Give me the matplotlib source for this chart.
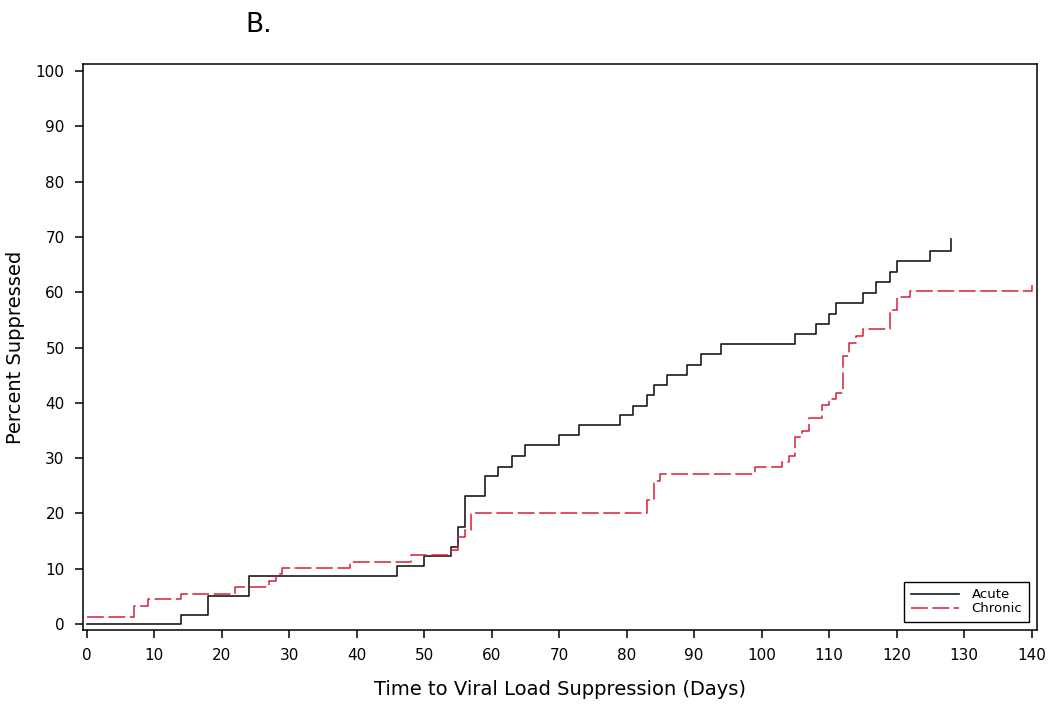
import numpy as np
import matplotlib
matplotlib.use("Agg")
import matplotlib.pyplot as plt

# Kaplan-Meier style cumulative suppression
acute_days = [0, 14, 18, 24, 46, 50, 54, 55, 56, 59, 61, 63, 65, 70, 73, 79, 81, 83,
              84, 86, 89, 91, 94, 105, 108, 110, 111, 115, 117, 119, 120, 125, 128]
acute_pct = [0, 1.7, 5.1, 8.6, 10.4, 12.2, 14.0, 17.6, 23.1, 26.7, 28.4, 30.4, 32.3,
             34.2, 36.0, 37.8, 39.5, 41.4, 43.2, 45.0, 46.8, 48.8, 50.6, 52.4, 54.2,
             56.0, 58.0, 59.9, 61.8, 63.7, 65.6, 67.5, 69.6]

chronic_days = [0, 7, 9, 14, 22, 27, 28, 29, 39, 48, 54, 55, 56, 57, 83, 84, 85, 99,
                103, 104, 105, 106, 107, 109, 110, 111, 112, 113, 114, 115, 119, 120,
                122, 140]
chronic_pct = [1.2, 3.3, 4.5, 5.5, 6.7, 7.8, 9.0, 10.1, 11.2, 12.4, 13.4, 15.7, 16.9,
               20.1, 22.4, 25.9, 27.1, 28.3, 29.3, 30.3, 33.9, 34.9, 37.3, 39.6, 40.6,
               41.8, 48.5, 50.8, 52.0, 53.3, 56.8, 59.1, 60.2, 61.3]

x_ticks = list(range(0, 141, 10))
y_ticks = list(range(0, 101, 10))

plt.rcParams['font.family'] = ['DejaVu Sans']

fig = plt.figure(figsize=(10.5, 7.15), dpi=100)
ax = fig.add_axes([0.0788, 0.1189, 0.9088, 0.7916])

ax.step(acute_days, acute_pct, where='post', color='#1a1a1a', linewidth=1.2, label='Acute')
ax.step(chronic_days, chronic_pct, where='post', color='#d42038', linewidth=1.1,
        dashes=(11, 3), label='Chronic')

ax.set_xlim(-0.6, 140.8)
ax.set_ylim(-1.1, 101.3)
ax.set_xticks(x_ticks)
ax.set_yticks(y_ticks)
ax.tick_params(direction='out', length=6, width=1.1, labelsize=11, pad=7,
               top=False, right=False)
for s in ax.spines.values():
    s.set_linewidth(1.1)
    s.set_color('black')

ax.set_xlabel('Time to Viral Load Suppression (Days)', fontsize=14, labelpad=12)
ax.set_ylabel('Percent Suppressed', fontsize=14, labelpad=8)

leg = ax.legend(loc='lower right', fontsize=9.5, frameon=True, fancybox=False,
                edgecolor='black', framealpha=1, handlelength=3.6,
                borderaxespad=0.6, labelspacing=0.1, handletextpad=1.0,
                borderpad=0.5)
leg.get_frame().set_linewidth(1.0)

fig.text(0.246, 0.965, 'B.', fontsize=19, ha='center', va='center')

fig.savefig('out.png', dpi=100)
